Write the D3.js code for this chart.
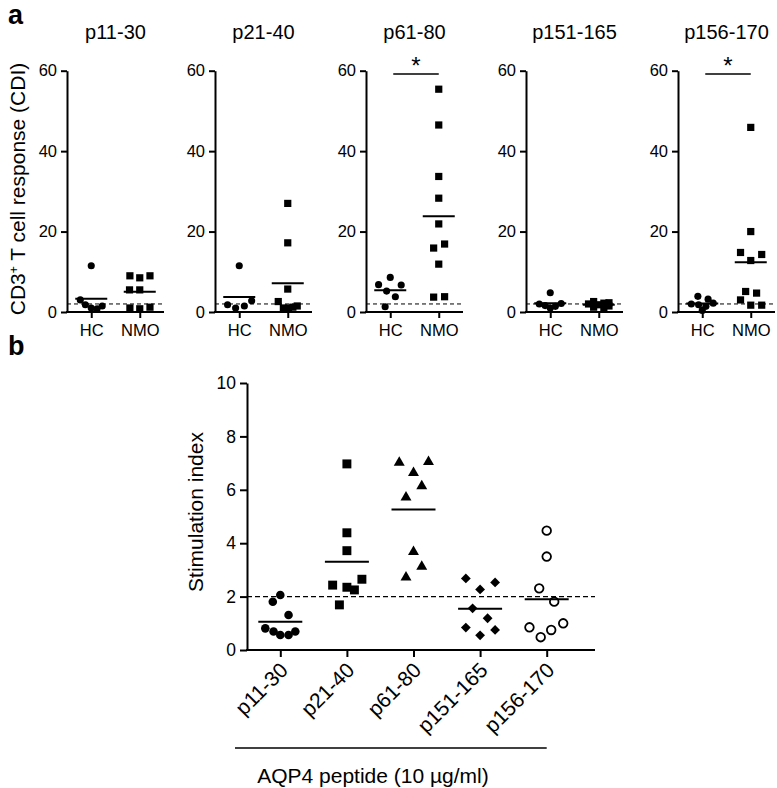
<!DOCTYPE html>
<html>
<head>
<meta charset="utf-8">
<script src="https://cdn.jsdelivr.net/npm/d3@7"></script>
<style>
  body { margin: 0; background: #fff; }
  svg { display: block; font-family: "Liberation Sans", Arial, sans-serif; }
</style>
</head>
<body>
<svg id="chart" width="777" height="788"></svg>
<script>
// ---------- DATA ----------
const peptides = ["p11-30", "p21-40", "p61-80", "p151-165", "p156-170"];
const groups = ["HC", "NMO"];
const cdiTicks = [0, 20, 40, 60];
const siTicks = [0, 2, 4, 6, 8, 10];
const cdiCutoff = 2;
const siCutoff = 2;
const significantPanels = ["p61-80", "p156-170"];

// Panel a: CD3+ T cell response (CDI), healthy controls
const hcCDI = [
  [11.5, 3.0, 1.8, 1.0, 0.8, 1.5],
  [11.5, 1.8, 1.0, 1.5, 2.8],
  [8.6, 6.8, 6.7, 5.2, 3.8, 1.3],
  [4.8, 2.0, 1.6, 1.0, 1.4, 2.1],
  [3.9, 3.2, 2.0, 2.2, 1.8, 1.4, 0.4]
];
// Panel a: NMO patients
const nmoCDI = [
  [9.0, 8.5, 9.0, 5.5, 5.5, 1.0, 0.8, 1.2],
  [27.0, 17.2, 5.7, 2.6, 1.0, 1.0, 1.2, 1.5],
  [55.4, 46.5, 33.7, 28.3, 21.9, 15.9, 16.9, 11.9, 3.7, 3.8],
  [2.6, 2.2, 2.0, 1.8, 1.5, 1.2, 1.0, 2.3],
  [45.9, 20.0, 14.8, 14.3, 12.8, 5.1, 4.7, 3.0, 1.7, 1.7]
];
// Panel b: stimulation index per peptide
const siValues = [
  [2.06, 1.81, 1.31, 0.81, 0.69, 0.56, 0.56, 0.69],
  [6.97, 4.39, 3.72, 2.43, 2.35, 2.25, 2.65, 1.69],
  [7.02, 7.05, 6.64, 6.14, 5.72, 3.68, 3.12, 2.72],
  [2.68, 2.53, 2.27, 1.56, 1.19, 0.84, 0.75, 0.55],
  [4.47, 3.50, 2.31, 1.81, 0.85, 0.48, 0.75, 1.00]
];

// ---------- LAYOUT (scatter dodge slots, not data) ----------
const hcSlots = [
  [0, -1.5, -0.8, 0, 0.8, 1.5],
  [0, -1.6, -0.5, 0.7, 1.7],
  [0, -1.6, 1.5, -0.5, 0.7, -0.7],
  [0, -1.5, -0.7, 0, 0.7, 1.5],
  [-0.6, 0.8, -1.5, 1.5, -0.5, 0.5, 0]
];
const nmoSlots = [
  [-1.35, 0, 1.4, -1.4, 0, -1.35, 0, 1.4],
  [0, 0, 0, -1.3, -0.6, 0.1, 0.7, 1.3],
  [0, 0, 0, 0, 0, -0.7, 0.8, 0, -0.7, 0.8],
  [-0.7, 0.7, -1.4, 0, 1.4, -0.7, 0.7, 1.4],
  [0, 0, -1.4, 1.5, 0, -0.7, 0.8, -1.4, 0, 1.5]
];
const siSlots = [
  [0, -1, 1.1, -2, -0.9, 0, 1.1, 2],
  [0, 0, 0, -1.9, 0, 1, 2, -1],
  [-1.9, 2, 0, 1.1, -1, 0, 1.1, -1],
  [-1.9, 2, 0, -1, 1, -1.9, 2, 0],
  [0, 0, -1, 1, -2.3, -0.8, 0.6, 2.2]
];

const svg = d3.select("#chart");
const font = '"Liberation Sans", Arial, sans-serif';

// ---------- PANEL a ----------
const panelX = [67, 215, 366, 526, 678];
const panelW = 97;
const aTop = 70.7, aBottom = 312;
const yA = d3.scaleLinear().domain([0, 60]).range([aBottom, aTop]);
const slotA = 7.3;

svg.append("text").attr("x", 8).attr("y", 24)
  .attr("font-size", 27).attr("font-weight", "bold").text("a");

const yLabA = svg.append("text")
  .attr("transform", `translate(25,189) rotate(-90)`)
  .attr("text-anchor", "middle").attr("font-size", 21);
yLabA.append("tspan").text("CD3");
yLabA.append("tspan").attr("baseline-shift", "super").attr("font-size", 12).text("+");
yLabA.append("tspan").text(" T cell response (CDI)");

peptides.forEach((pep, i) => {
  const x0 = panelX[i];
  const xA = d3.scalePoint().domain(groups).range([x0, x0 + panelW]).padding(0.5);
  const g = svg.append("g");

  // title
  g.append("text").attr("x", x0 + panelW / 2).attr("y", 39)
    .attr("text-anchor", "middle").attr("font-size", 20).text(pep);

  // cutoff dashed line
  g.append("line").attr("x1", x0).attr("x2", x0 + panelW)
    .attr("y1", yA(cdiCutoff)).attr("y2", yA(cdiCutoff))
    .attr("stroke", "#000").attr("stroke-width", 1).attr("stroke-dasharray", "4,3");

  // axes
  const yAxis = g.append("g").attr("transform", `translate(${x0},0)`)
    .call(d3.axisLeft(yA).tickValues(cdiTicks).tickSize(6).tickSizeOuter(0).tickPadding(4));
  const xAxis = g.append("g").attr("transform", `translate(0,${aBottom})`)
    .call(d3.axisBottom(xA).tickSize(6).tickSizeOuter(0).tickPadding(2));
  [yAxis, xAxis].forEach(ax => {
    ax.selectAll("path, line").attr("stroke", "#000").attr("stroke-width", 2);
    ax.selectAll("text").attr("font-family", font).attr("font-size", 16.5).attr("fill", "#000");
  });
  xAxis.select(".domain").attr("d", `M${x0 - 1},0H${x0 + panelW}`);
  xAxis.selectAll("text").attr("dy", "0.95em");

  // points
  const circle = d3.symbol().type(d3.symbolCircle).size(40);
  const square = d3.symbol().type(d3.symbolSquare).size(52);
  hcCDI[i].forEach((v, j) => {
    g.append("path").attr("d", circle())
      .attr("transform", `translate(${xA("HC") + hcSlots[i][j] * slotA},${yA(v)})`)
      .attr("fill", "#000");
  });
  nmoCDI[i].forEach((v, j) => {
    g.append("path").attr("d", square())
      .attr("transform", `translate(${xA("NMO") + nmoSlots[i][j] * slotA},${yA(v)})`)
      .attr("fill", "#000");
  });

  // mean lines
  [["HC", hcCDI[i]], ["NMO", nmoCDI[i]]].forEach(([grp, vals]) => {
    const m = d3.mean(vals);
    g.append("line").attr("x1", xA(grp) - 16).attr("x2", xA(grp) + 16)
      .attr("y1", yA(m)).attr("y2", yA(m))
      .attr("stroke", "#000").attr("stroke-width", 2);
  });

  // significance
  if (significantPanels.includes(pep)) {
    const bx1 = xA("HC") + 3, bx2 = xA("NMO");
    g.append("line").attr("x1", bx1).attr("x2", bx2).attr("y1", 74).attr("y2", 74)
      .attr("stroke", "#000").attr("stroke-width", 1.5);
    g.append("text").attr("x", (bx1 + bx2) / 2).attr("y", 74)
      .attr("text-anchor", "middle").attr("font-size", 24).text("*");
  }
});

// ---------- PANEL b ----------
const bLeft = 247, bRightAxis = 595, bTop = 383, bBottom = 650;
const xB = d3.scalePoint().domain(peptides).range([bLeft, 580]).padding(0.5);
const yB = d3.scaleLinear().domain([0, 10]).range([bBottom, bTop]);
const slotB = 7.5;

svg.append("text").attr("x", 8).attr("y", 355)
  .attr("font-size", 27).attr("font-weight", "bold").text("b");

svg.append("text")
  .attr("transform", `translate(203,512) rotate(-90)`)
  .attr("text-anchor", "middle").attr("font-size", 21).text("Stimulation index");

const gb = svg.append("g");
gb.append("line").attr("x1", bLeft).attr("x2", bRightAxis)
  .attr("y1", yB(siCutoff)).attr("y2", yB(siCutoff))
  .attr("stroke", "#000").attr("stroke-width", 1.2).attr("stroke-dasharray", "5,3");

const yAxB = gb.append("g").attr("transform", `translate(${bLeft},0)`)
  .call(d3.axisLeft(yB).tickValues(siTicks).tickSize(7).tickSizeOuter(0).tickPadding(4));
const xAxB = gb.append("g").attr("transform", `translate(0,${bBottom})`)
  .call(d3.axisBottom(xB).tickSize(7).tickSizeOuter(0));
[yAxB, xAxB].forEach(ax => {
  ax.selectAll("path, line").attr("stroke", "#000").attr("stroke-width", 2);
  ax.selectAll("text").attr("font-family", font).attr("font-size", 17.5).attr("fill", "#000");
});
xAxB.select(".domain").attr("d", `M${bLeft - 1},0H${bRightAxis}`);
xAxB.selectAll("text")
  .attr("font-size", 21)
  .attr("text-anchor", "end").attr("dy", "0.3em").attr("y", 0)
  .attr("transform", "translate(4,17) rotate(-45)");

const bSymbols = [
  { type: d3.symbolCircle, size: 58, fill: "#000", stroke: "none", rot: 0 },
  { type: d3.symbolSquare, size: 80, fill: "#000", stroke: "none", rot: 0 },
  { type: d3.symbolTriangle, size: 52, fill: "#000", stroke: "none", rot: 0 },
  { type: d3.symbolSquare, size: 48, fill: "#000", stroke: "none", rot: 45 },
  { type: d3.symbolCircle, size: 58, fill: "#fff", stroke: "#000", rot: 0 }
];

peptides.forEach((pep, i) => {
  const s = bSymbols[i];
  const sym = d3.symbol().type(s.type).size(s.size);
  siValues[i].forEach((v, j) => {
    gb.append("path").attr("d", sym())
      .attr("transform", `translate(${xB(pep) + siSlots[i][j] * slotB},${yB(v)}) rotate(${s.rot})`)
      .attr("fill", s.fill).attr("stroke", s.stroke).attr("stroke-width", 1.8);
  });
  const m = d3.mean(siValues[i]);
  gb.append("line").attr("x1", xB(pep) - 22).attr("x2", xB(pep) + 22)
    .attr("y1", yB(m)).attr("y2", yB(m))
    .attr("stroke", "#000").attr("stroke-width", 2);
});

// bracket + x title
gb.append("line").attr("x1", 235).attr("x2", xB(peptides[4]))
  .attr("y1", 748).attr("y2", 748).attr("stroke", "#000").attr("stroke-width", 1.5);
gb.append("text").attr("x", 373).attr("y", 783).attr("text-anchor", "middle")
  .attr("font-size", 21).text("AQP4 peptide (10 µg/ml)");
</script>
</body>
</html>
